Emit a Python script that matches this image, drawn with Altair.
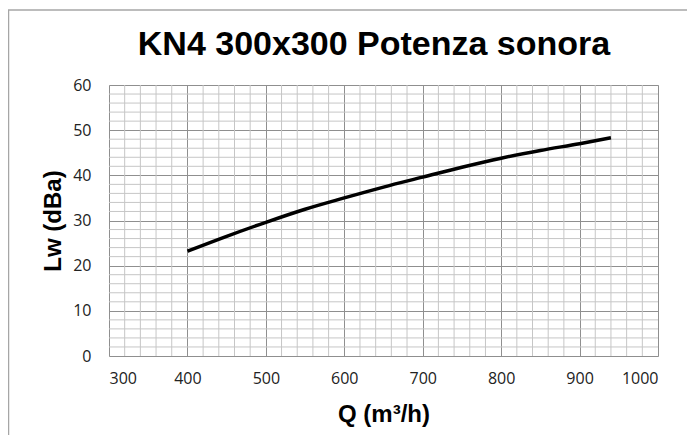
import altair as alt
import pandas as pd

# Data
q = [400, 450, 500, 550, 600, 650, 700, 750, 800, 850, 900, 940]
lw = [23.2, 26.5, 29.6, 32.5, 35.0, 37.4, 39.6, 41.8, 43.8, 45.5, 47.0, 48.3]

x_major = [300, 400, 500, 600, 700, 800, 900, 1000]
y_major = [0, 10, 20, 30, 40, 50, 60]
x_minor = [v for v in range(300, 1001, 20) if v % 100 != 0]
y_minor = [v for v in range(0, 61, 2) if v % 10 != 0]

title_text = "KN4 300x300 Potenza sonora"

df = pd.DataFrame({"Q": q, "Lw": lw})

xscale = alt.Scale(domain=[300, 1000], nice=False, zero=False)
yscale = alt.Scale(domain=[0, 60], nice=False)

xaxis = alt.Axis(values=x_major, format="d", title="Q (m³/h)", grid=True,
                 gridColor="#8f8f8f", gridWidth=1, ticks=False, domain=False,
                 labelPadding=14, labelFont="Open Sans", labelFontSize=16,
                 labelColor="#222222", titleFont="Liberation Sans", titleFontSize=24,
                 titleFontWeight="bold", titleColor="black", titlePadding=16)
yaxis = alt.Axis(values=y_major, format="d", title="Lw (dBa)", grid=True,
                 gridColor="#8f8f8f", gridWidth=1, ticks=False, domain=False,
                 labelPadding=18, labelFont="Open Sans", labelFontSize=16,
                 labelColor="#222222", titleFont="Liberation Sans", titleFontSize=24,
                 titleFontWeight="bold", titleColor="black", titlePadding=7)

vrules = alt.Chart(pd.DataFrame({"Q": x_minor})).mark_rule(
    color="#c6c6c6", strokeWidth=1).encode(
    x=alt.X("Q:Q", scale=xscale, axis=xaxis))
hrules = alt.Chart(pd.DataFrame({"Lw": y_minor})).mark_rule(
    color="#c6c6c6", strokeWidth=1).encode(
    y=alt.Y("Lw:Q", scale=yscale, axis=yaxis))

line = alt.Chart(df).mark_line(color="black", strokeWidth=3.5,
                               interpolate="monotone").encode(
    x=alt.X("Q:Q", scale=xscale, axis=xaxis),
    y=alt.Y("Lw:Q", scale=yscale, axis=yaxis))

frame = alt.Chart(pd.DataFrame({"a": [0]})).mark_rect(
    fill="transparent", stroke="#a6a6a6", strokeWidth=1.5).encode(
    x=alt.value(-100.5), x2=alt.value(640), y=alt.value(-75), y2=alt.value(400))

title = alt.Chart(pd.DataFrame({"t": [title_text]})).mark_text(
    font="Liberation Sans", fontSize=34, fontWeight="bold", color="black",
    align="center", baseline="alphabetic").encode(
    text="t:N", x=alt.value(265), y=alt.value(-30))

chart = alt.layer(frame, vrules, hrules, line, title).properties(
    width=549, height=271,
    autosize=alt.AutoSizeParams(type="none"),
    padding={"left": 101, "top": 77, "right": 29, "bottom": 79},
).configure_view(stroke="#8f8f8f", strokeWidth=1).configure(background="white")

chart.save("out.html", embed_options={"renderer": "svg", "actions": False})
